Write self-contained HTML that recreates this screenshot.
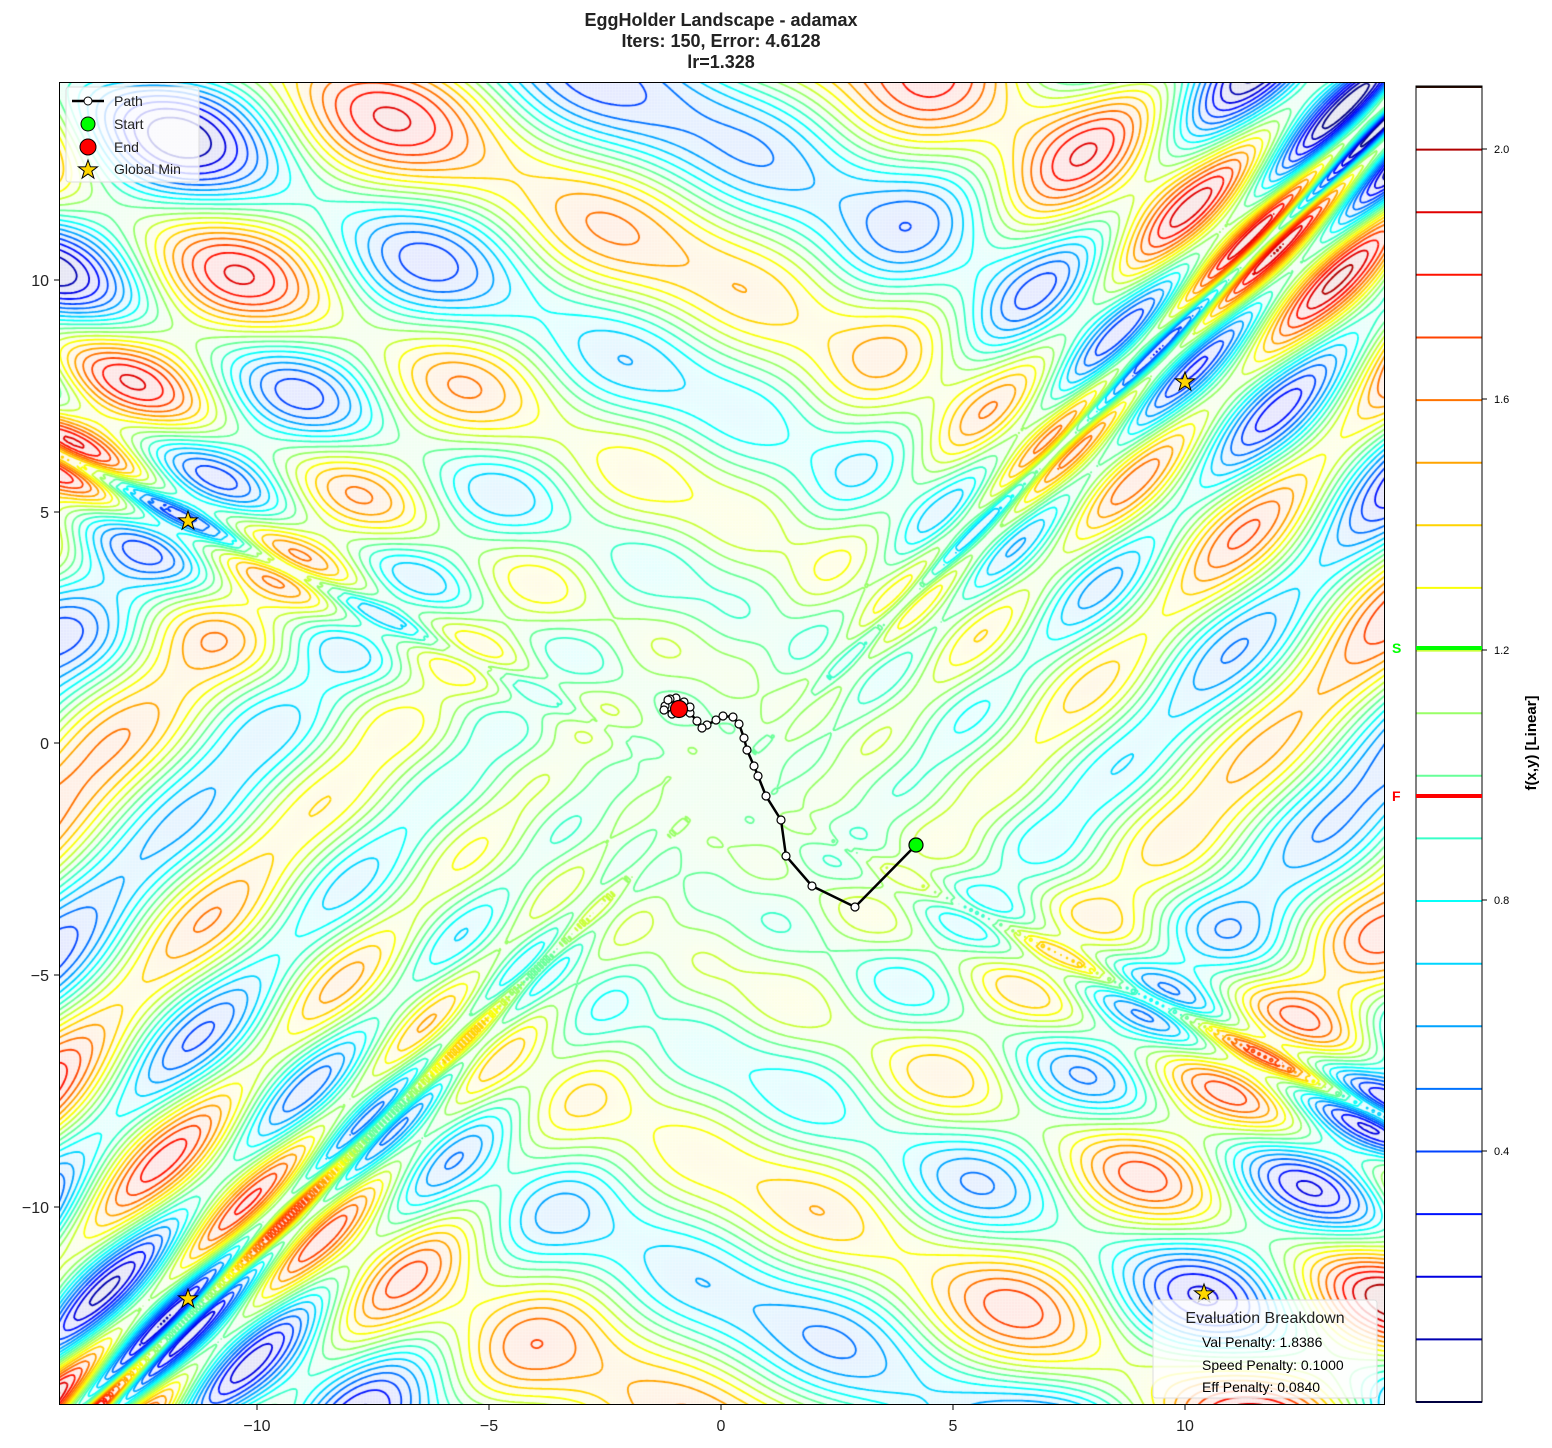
<!DOCTYPE html>
<html><head><meta charset="utf-8"><style>
body{margin:0;background:#fff;font-family:"Liberation Sans","DejaVu Sans",sans-serif;}
#wrap{position:relative;width:1552px;height:1448px;overflow:hidden;background:#fff}
.abs{position:absolute}
</style></head><body><div id="wrap">
<div class="abs" style="left:0;width:1442px;top:10px;text-align:center;font-weight:bold;font-size:18px;line-height:21px;color:#222">EggHolder Landscape - adamax<br>Iters: 150, Error: 4.6128<br>lr=1.328</div>
<canvas id="c" width="1326" height="1323" class="abs" style="left:59px;top:82px"></canvas>
<div class="abs" style="left:59px;top:82px;width:1324px;height:1321px;border:1px solid #000"></div>
<svg class="abs" style="left:0;top:0" width="1552" height="1448">
<g stroke="#000" stroke-width="1">
<line x1="257" y1="1405" x2="257" y2="1410"/><line x1="489" y1="1405" x2="489" y2="1410"/><line x1="721" y1="1405" x2="721" y2="1410"/><line x1="953" y1="1405" x2="953" y2="1410"/><line x1="1185" y1="1405" x2="1185" y2="1410"/>
<line x1="54" y1="280" x2="59" y2="280"/><line x1="54" y1="512" x2="59" y2="512"/><line x1="54" y1="743" x2="59" y2="743"/><line x1="54" y1="975" x2="59" y2="975"/><line x1="54" y1="1207" x2="59" y2="1207"/>
</g>
<polyline fill="none" stroke="#000" stroke-width="2.5" points="916,845 855,907 812,886 786,856 781,820 766,796 758,776 754,766 747,750 744,738 739,724 733,717 723,716 716,720 707,725 702,728 697,721 690,713 688,707 684,702 676,698 670,699 665,703 667,710 673,714 680,712 686,709 690,705"/>
<g fill="#fff" stroke="#000" stroke-width="1.2">
<circle cx="855" cy="907" r="4"/><circle cx="812" cy="886" r="4"/><circle cx="786" cy="856" r="4"/><circle cx="781" cy="820" r="4"/><circle cx="766" cy="796" r="4"/><circle cx="758" cy="776" r="4"/><circle cx="754" cy="766" r="4"/><circle cx="747" cy="750" r="4"/><circle cx="744" cy="738" r="4"/><circle cx="739" cy="724" r="4"/><circle cx="733" cy="717" r="4"/><circle cx="723" cy="716" r="4"/><circle cx="716" cy="720" r="4"/><circle cx="707" cy="725" r="4"/><circle cx="702" cy="728" r="4"/><circle cx="697" cy="721" r="4"/><circle cx="690" cy="713" r="4"/><circle cx="684" cy="702" r="4"/><circle cx="676" cy="698" r="4"/><circle cx="670" cy="699" r="4"/><circle cx="665" cy="706" r="4"/><circle cx="668" cy="700" r="4"/><circle cx="664" cy="710" r="4"/><circle cx="690" cy="707" r="4"/><circle cx="672" cy="714" r="4"/>
</g>
<circle cx="916" cy="845" r="7" fill="#0f0" stroke="#000" stroke-width="1.2"/>
<circle cx="679" cy="709" r="8.5" fill="#f00" stroke="#000" stroke-width="1.2"/>
<g fill="#FFD700" stroke="#000" stroke-width="1">
<polygon id="st" points="0,-10 2.4,-3.2 9.5,-3.1 3.8,1.2 5.9,8.1 0,4 -5.9,8.1 -3.8,1.2 -9.5,-3.1 -2.4,-3.2" transform="translate(1185,382)"/>
<use href="#st" transform="translate(-997,139)"/>
<use href="#st" transform="translate(-997,917)"/>
<use href="#st" transform="translate(19,912)"/>
</g>
<rect x="66" y="87" width="133" height="95" rx="3" fill="#fff" fill-opacity="0.8" stroke="#ddd"/>
<line x1="72" y1="101" x2="104" y2="101" stroke="#000" stroke-width="2.5"/><circle cx="88" cy="101" r="4" fill="#fff" stroke="#000"/>
<circle cx="88" cy="124" r="7" fill="#0f0" stroke="#000"/>
<circle cx="88" cy="147" r="8" fill="#f00" stroke="#000"/>
<use href="#st" transform="translate(-1097,-212)" fill="#FFD700" stroke="#000"/>
<text x="114" y="106" font-size="14" fill="#222">Path</text>
<text x="114" y="129" font-size="14" fill="#222">Start</text>
<text x="114" y="152" font-size="14" fill="#222">End</text>
<text x="114" y="174" font-size="14" fill="#222">Global Min</text>
<rect x="1153" y="1300" width="224" height="98" rx="3" fill="#fff" fill-opacity="0.8" stroke="#ddd"/>
<text x="1265" y="1323" font-size="16" text-anchor="middle" fill="#222">Evaluation Breakdown</text>
<text x="1202" y="1347" font-size="14" fill="#000">Val Penalty: 1.8386</text>
<text x="1202" y="1370" font-size="14" fill="#000">Speed Penalty: 0.1000</text>
<text x="1202" y="1392" font-size="14" fill="#000">Eff Penalty: 0.0840</text>
<g id="cb"></g>
<rect x="1416" y="86" width="66" height="1316" fill="none" stroke="#000" stroke-width="1"/>
<g font-size="11" fill="#000">
<text x="1494" y="153">2.0</text><text x="1494" y="403">1.6</text><text x="1494" y="654">1.2</text><text x="1494" y="904">0.8</text><text x="1494" y="1155">0.4</text>
</g>
<g stroke="#000"><line x1="1482" y1="149" x2="1487" y2="149"/><line x1="1482" y1="399" x2="1487" y2="399"/><line x1="1482" y1="650" x2="1487" y2="650"/><line x1="1482" y1="900" x2="1487" y2="900"/><line x1="1482" y1="1151" x2="1487" y2="1151"/></g>
<line x1="1416" y1="648" x2="1482" y2="648" stroke="#0f0" stroke-width="4"/>
<line x1="1416" y1="796" x2="1482" y2="796" stroke="#f00" stroke-width="4"/>
<text x="1392" y="653" font-size="14" font-weight="bold" fill="#0f0">S</text>
<text x="1392" y="801" font-size="14" font-weight="bold" fill="#f00">F</text>
<text transform="translate(1536,743) rotate(-90)" text-anchor="middle" font-size="15" font-weight="bold" fill="#000">f(x,y) [Linear]</text>
<g font-size="16" fill="#222" text-anchor="middle">
<text x="257" y="1431">−10</text><text x="489" y="1431">−5</text><text x="721" y="1431">0</text><text x="953" y="1431">5</text><text x="1185" y="1431">10</text>
</g>
<g font-size="16" fill="#222" text-anchor="end">
<text x="49" y="286">10</text><text x="49" y="518">5</text><text x="49" y="749">0</text><text x="49" y="981">−5</text><text x="49" y="1213">−10</text>
</g>
</svg>
<script>
function jet(t){t=Math.max(0,Math.min(1,t));function c(v){return Math.max(0,Math.min(1,v))}
return [c(1.5-Math.abs(4*t-3)),c(1.5-Math.abs(4*t-2)),c(1.5-Math.abs(4*t-1))].map(v=>Math.round(v*255));}
function f(x,y){var X=x*51.2,Y=y*51.2;
var v=-(Y+47)*Math.sin(Math.sqrt(Math.abs(X/2+Y+47)))-X*Math.sin(Math.sqrt(Math.abs(X-(Y+47))));
return v/1250+1.05;}
var W=1326,H=1323,xmin=-14.27,xmax=14.31,ymax=14.27,ymin=-14.3;
var cv=document.getElementById('c'),ctx=cv.getContext('2d');
var st=3,nx=Math.ceil(W/st)+1,ny=Math.ceil(H/st)+1,G=[];
for(var j=0;j<ny;j++){G[j]=[];for(var i=0;i<nx;i++){var x=xmin+(i*st)/W*(xmax-xmin),y=ymax-(j*st)/H*(ymax-ymin);G[j][i]=f(x,y);}}
ctx.fillStyle='#fff';ctx.fillRect(0,0,W,H);
for(var j=0;j<ny;j++)for(var i=0;i<nx;i++){var c=jet(G[j][i]/2.1);var a=0.1;
ctx.fillStyle='rgb('+Math.round(255*(1-a)+c[0]*a)+','+Math.round(255*(1-a)+c[1]*a)+','+Math.round(255*(1-a)+c[2]*a)+')';ctx.fillRect(i*st-1.5,j*st-1.5,st,st);}
ctx.lineWidth=1.8;
for(var L=0;L<=21;L++){var lv=L*0.1;var c=jet(lv/2.1);ctx.strokeStyle='rgb('+c.join(',')+')';ctx.beginPath();
for(var j=0;j<ny-1;j++)for(var i=0;i<nx-1;i++){
var a=G[j][i],b=G[j][i+1],d=G[j+1][i+1],e=G[j+1][i];
var pts=[];
function ed(v1,v2,x1,y1,x2,y2){if((v1<lv)!=(v2<lv)){var t=(lv-v1)/(v2-v1);pts.push([x1+(x2-x1)*t,y1+(y2-y1)*t]);}}
var x0=i*st,y0=j*st;
ed(a,b,x0,y0,x0+st,y0);ed(b,d,x0+st,y0,x0+st,y0+st);ed(d,e,x0+st,y0+st,x0,y0+st);ed(e,a,x0,y0+st,x0,y0);
if(pts.length>=2){ctx.moveTo(pts[0][0],pts[0][1]);ctx.lineTo(pts[1][0],pts[1][1]);}
if(pts.length==4){ctx.moveTo(pts[2][0],pts[2][1]);ctx.lineTo(pts[3][0],pts[3][1]);}
}
ctx.stroke();}
var cb=document.getElementById('cb'),s='';
for(var L=0;L<=21;L++){var y=1402-L*62.62;var c=jet(L*0.1/2.1);if(L==21)c=[40,10,0];
s+='<line x1="1416" x2="1482" y1="'+y.toFixed(1)+'" y2="'+y.toFixed(1)+'" stroke="rgb('+c.join(',')+')" stroke-width="2"/>';}
cb.innerHTML=s;
</script>
</div></body></html>
